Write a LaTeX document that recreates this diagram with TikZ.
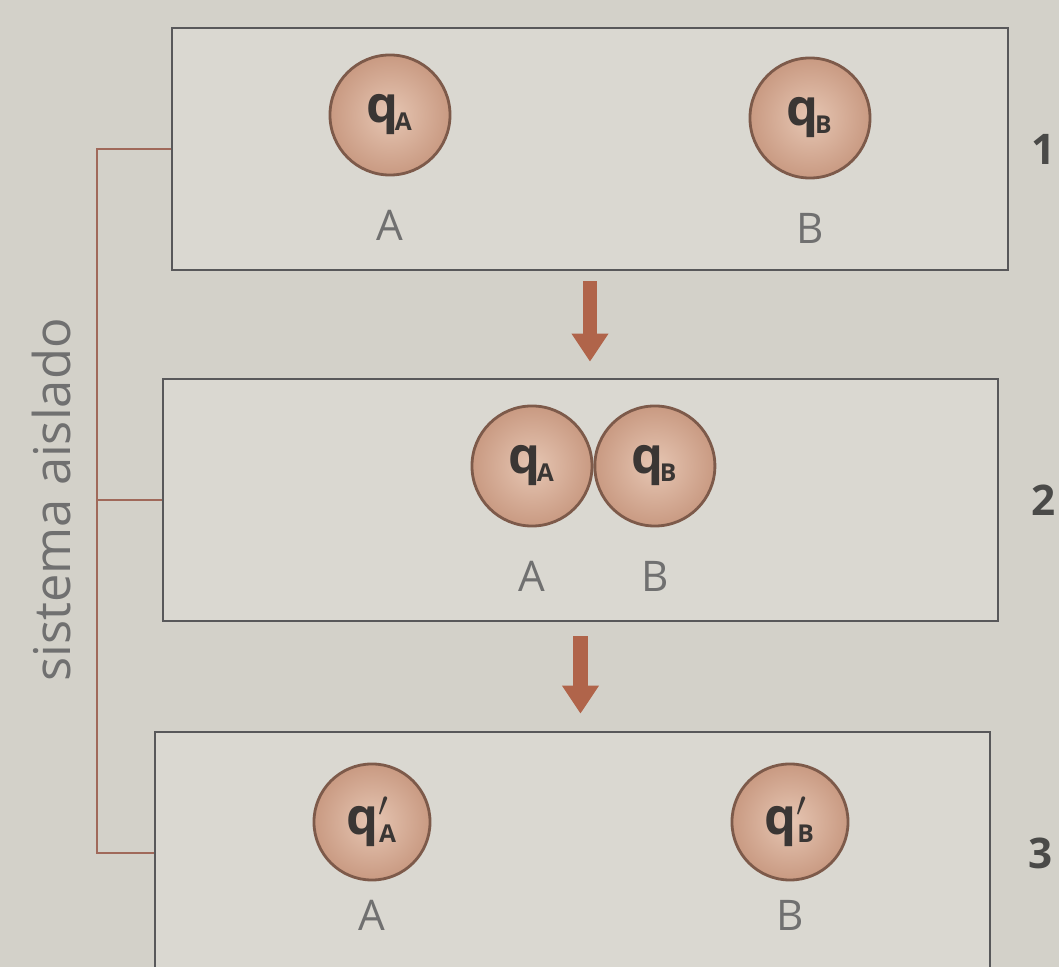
\documentclass[tikz,border=0pt]{standalone}
\usepackage{fontspec}
\setmainfont{Open Sans}
\usetikzlibrary{arrows.meta,positioning}

\definecolor{paper}{HTML}{D3D1C9}
\definecolor{panelbg}{HTML}{DAD8D1}
\definecolor{frame}{HTML}{58585A}
\definecolor{ballin}{HTML}{E6C6B3}
\definecolor{ballout}{HTML}{C99A82}
\definecolor{ballrim}{HTML}{7D5A4A}
\definecolor{charge}{HTML}{3A3634}
\definecolor{labelgray}{HTML}{707070}
\definecolor{numgray}{HTML}{4A4A48}
\definecolor{arrowred}{HTML}{B0644A}
\definecolor{bracketred}{HTML}{A0695A}

\newcommand{\chg}[1]{q\textsubscript{\kern-1pt\scriptsize #1}}
\newcommand{\chgp}[1]{q$'$\textsubscript{\kern-3pt\scriptsize #1}}

\begin{document}
\begin{tikzpicture}[x=0.01cm, y=-0.01cm, node distance=3mm,
  panel/.style={draw=frame, line width=0.7pt, fill=panelbg, minimum width=8.35cm, minimum height=2.42cm, inner sep=0pt},
  ball/.style={circle, draw=ballrim, line width=0.8pt, inner color=ballin, outer color=ballout, minimum size=1.2cm, inner sep=0pt, font=\bfseries\Large, text=charge},
  tag/.style={font=\large, text=labelgray, inner sep=1pt},
  stage/.style={font=\bfseries\large, text=numgray},
  flow/.style={draw=arrowred, line width=4pt, -{Triangle[width=10pt,length=8pt]}},
  bracket/.style={draw=bracketred, line width=0.8pt}]
\useasboundingbox (0,0) rectangle (1059,967);
\clip (0,0) rectangle (1059,967);
\fill[paper] (0,0) rectangle (1059,967);

% the three stages
\node[panel] (p1) at (590,149) {};
\node[panel] (p2) at (580.5,500) {};
\node[panel] (p3) at (572.5,853) {};

% stage 1: spheres apart
\node[ball] (qa1) at (390,115) {\chg{A}};
\node[ball] (qb1) at (810,118) {\chg{B}};
\node[tag, below=of qa1] (la1) {A};
\node[tag, below=of qb1] (lb1) {B};

% stage 2: spheres in contact
\node[ball] (qa2) at (532,466) {\chg{A}};
\node[ball, right=0mm of qa2] (qb2) {\chg{B}};
\node[tag, below=of qa2] (la2) {A};
\node[tag, below=of qb2] (lb2) {B};

% stage 3: spheres separated again
\node[ball, minimum size=1.16cm] (qa3) at (372,822) {\chgp{A}};
\node[ball, minimum size=1.16cm] (qb3) at (790,822) {\chgp{B}};
\node[tag, below=1.5mm of qa3] (la3) {A};
\node[tag, below=1.5mm of qb3] (lb3) {B};

\draw[flow, shorten <=0.1cm, shorten >=0.16cm] (p1.south) -- (p1.south |- p2.north);
\draw[flow, shorten <=0.14cm, shorten >=0.17cm] (p2.south) -- (p2.south |- p3.north);

\node[stage, right=1mm of p1] (n1) {1};
\node[stage, right=2mm of p2] (n2) {2};
\node[stage, right=2.5mm of p3] (n3) {3};

% bracket for the isolated system
\coordinate (bar) at (97,0);
\draw[bracket] (p1.west) -- (p1.west -| bar) -- (p3.west -| bar) -- (p3.west);
\draw[bracket] (p2.west) -- (p2.west -| bar);
\node[font=\Large, text=labelgray, rotate=90] (sys) at (52,500) {sistema aislado};
\end{tikzpicture}
\end{document}
